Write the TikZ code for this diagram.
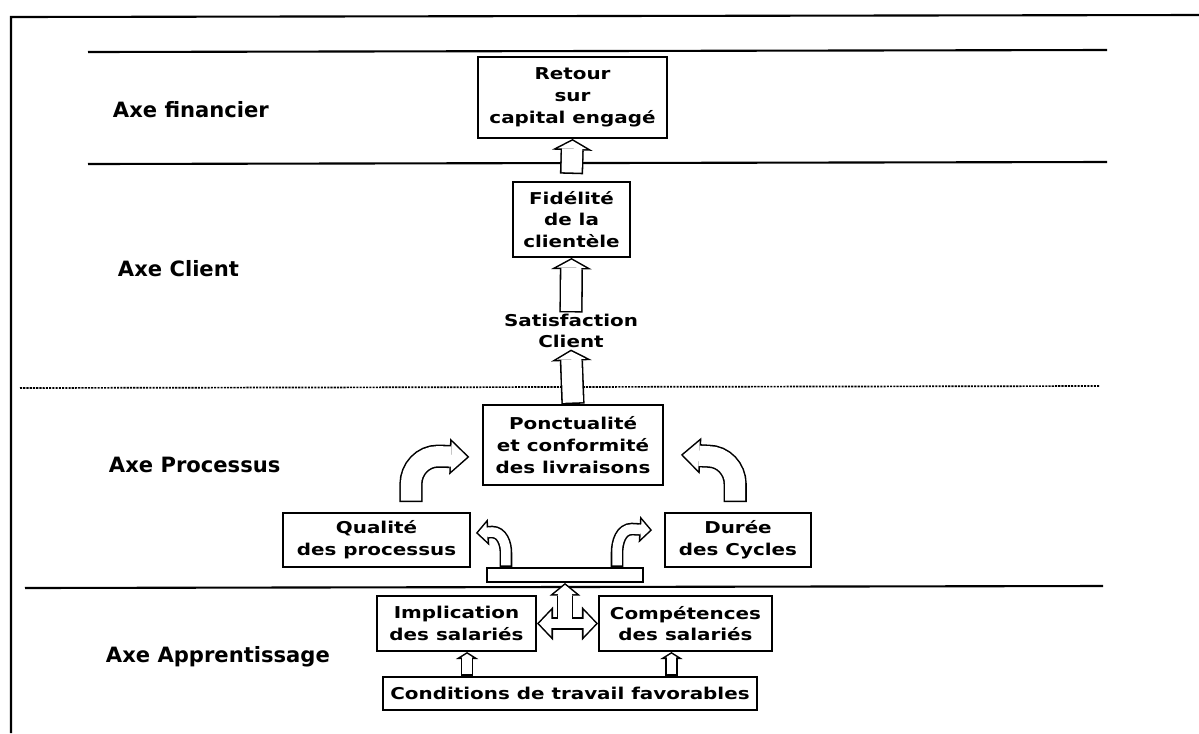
\documentclass[tikz,border=0pt]{standalone}
\usepackage{fontspec}
\usetikzlibrary{arrows.meta}
\newfontfamily\boxfont{DejaVu Sans Bold}[FakeStretch=1.22]
\newfontfamily\axefont{DejaVu Sans Bold}

\tikzset{
  hollowcalc/.style n args={3}{/utils/exec={%
      \pgfmathsetlengthmacro\hlw{#1-2.2pt}%
      \pgfmathsetlengthmacro\hsh{1.1pt*veclen(#2/2,#3)/(#2/2)}%
      \pgfmathsetlengthmacro\hlen{#3-\hsh-1.1pt}%
      \pgfmathsetlengthmacro\hwid{\hlen*(#2)/(#3)}}},
  hollow/.style n args={3}{hollowcalc={#1}{#2}{#3}, draw=black, line width=#1,
    -{Triangle[width=#2,length=#3,line width=0pt]},
    postaction={draw=white, line width=\hlw,
      -{Triangle[width=\hwid,length=\hlen,line width=0pt]},
      shorten >=\hsh, shorten <=1.1pt}},
  hollowboth/.style n args={3}{hollowcalc={#1}{#2}{#3}, draw=black, line width=#1,
    {Triangle[width=#2,length=#3,line width=0pt]}-{Triangle[width=#2,length=#3,line width=0pt]},
    postaction={draw=white, line width=\hlw,
      {Triangle[width=\hwid,length=\hlen,line width=0pt]}-{Triangle[width=\hwid,length=\hlen,line width=0pt]},
      shorten >=\hsh, shorten <=\hsh}},
  box/.style={draw, line width=1.4pt, inner sep=2pt, align=center,
    font=\boxfont\fontsize{11.6}{15.5}\selectfont},
  axe/.style={anchor=west, font=\axefont\fontsize{15}{18}\selectfont},
  sep/.style={line width=1.5pt}
}

\begin{document}
\begin{tikzpicture}[x=0.025cm,y=-0.025cm]
    \useasboundingbox (0,0) rectangle (1199,733);
    % frame and axis separators
    \draw[sep] (11,733) -- (11,17) -- (1199,15);
    \draw[sep] (88,52) -- (1107,50);
    \draw[sep] (88,164) -- (1107,162);
    \draw[line width=1.2pt, dash pattern=on 1.5pt off 0.8pt] (20,388) -- (1100,386);
    \draw[sep] (25,588) -- (1103,586);

    \node[axe] (fin) at (108,110) {Axe financier};
    \node[axe] (cli) at (113,269) {Axe Client};
    \node[axe] (pro) at (104,465) {Axe Processus};
    \node[axe] (app) at (101,657) {Axe Apprentissage};

    \node[box, minimum width=4.725cm, minimum height=2.025cm] (ret) at (572.5,97.5) {Retour\\sur\\capital engagé};
    \node[box, minimum width=2.925cm, minimum height=1.875cm] (fid) at (571.5,219.5) {Fidélité\\de la\\clientèle};
    \node[align=center, inner sep=1pt, font=\boxfont\fontsize{11.6}{15}\selectfont] (sat) at (571,331) {Satisfaction\\Client};
    \node[box, minimum width=4.5cm, minimum height=2cm] (pon) at (573,445) {Ponctualité\\et conformité\\des livraisons};
    \node[box, minimum width=4.675cm, minimum height=1.35cm] (qual) at (376.5,540) {Qualité\\des processus};
    \node[box, minimum width=3.65cm, minimum height=1.35cm] (dur) at (738,540) {Durée\\des Cycles};
    \node[draw, line width=1.4pt, minimum width=3.9cm, minimum height=0.35cm, inner sep=0pt] (bar) at (565,575) {};
    \node[box, minimum width=3.975cm, minimum height=1.375cm] (imp) at (456.5,623.5) {Implication\\des salariés};
    \node[box, minimum width=4.325cm, minimum height=1.375cm] (comp) at (685.5,623.5) {Compétences\\des salariés};
    \node[box, minimum width=9.35cm, minimum height=0.825cm] (cond) at (570,693.5) {Conditions de travail favorables};

    % straight arrows of the column
    \draw[hollow={16.5pt}{29pt}{8pt}] ([yshift=5pt]fid.north) -- (ret.south);
    \draw[hollow={16.5pt}{29pt}{8pt}] (sat.north) -- (fid.south);
    \draw[hollow={16.5pt}{29pt}{8pt}] (pon.north) -- (sat.south);

    % big bent arrows
    \draw[hollow={16.5pt}{26pt}{14pt}] ([xshift=24.5pt,yshift=7pt]qual.north) -- ++(0,-18)
        to[out=90,in=180] ++(27,-28) -- ([xshift=-9pt,yshift=-8.5pt]pon.west);
    \draw[hollow={16.5pt}{26pt}{14pt}] ([xshift=-2pt,yshift=7pt]dur.north) -- ++(0,-18)
        to[out=90,in=0] ++(-27,-28) -- ([xshift=12pt,yshift=-7pt]pon.east);

    % small bent arrows from the bar
    \draw[hollow={9pt}{19pt}{9pt}] ([xshift=-42pt]bar.north) -- ++(0,-14)
        to[out=90,in=0] ++(-14,-21) -- ([xshift=3.5pt,yshift=5pt]qual.east);
    \draw[hollow={9pt}{19pt}{9pt}] ([xshift=37pt]bar.north) -- ++(0,-14)
        to[out=90,in=180] ++(15,-24) -- ([xshift=-8.5pt,yshift=7pt]dur.west);

    % T arrow under the bar
    \coordinate (tb) at (bar.south |- imp.east);
    \draw[hollow={12pt}{22pt}{9pt}] (tb) -- (bar.south);
    \draw[hollowboth={9pt}{24pt}{11.4pt}] (imp.east) -- (comp.west);
    \draw[white, line width=9.8pt] (tb) -- ++(0,-14);

    % arrows from the working conditions
    \coordinate (ia) at ([xshift=7.5pt]imp.south);
    \coordinate (ca) at ([xshift=-10pt]comp.south);
    \draw[hollow={9pt}{16pt}{5pt}] (cond.north -| ia) -- (ia);
    \draw[hollow={9pt}{16pt}{5pt}] (cond.north -| ca) -- (ca);
\end{tikzpicture}
\end{document}
